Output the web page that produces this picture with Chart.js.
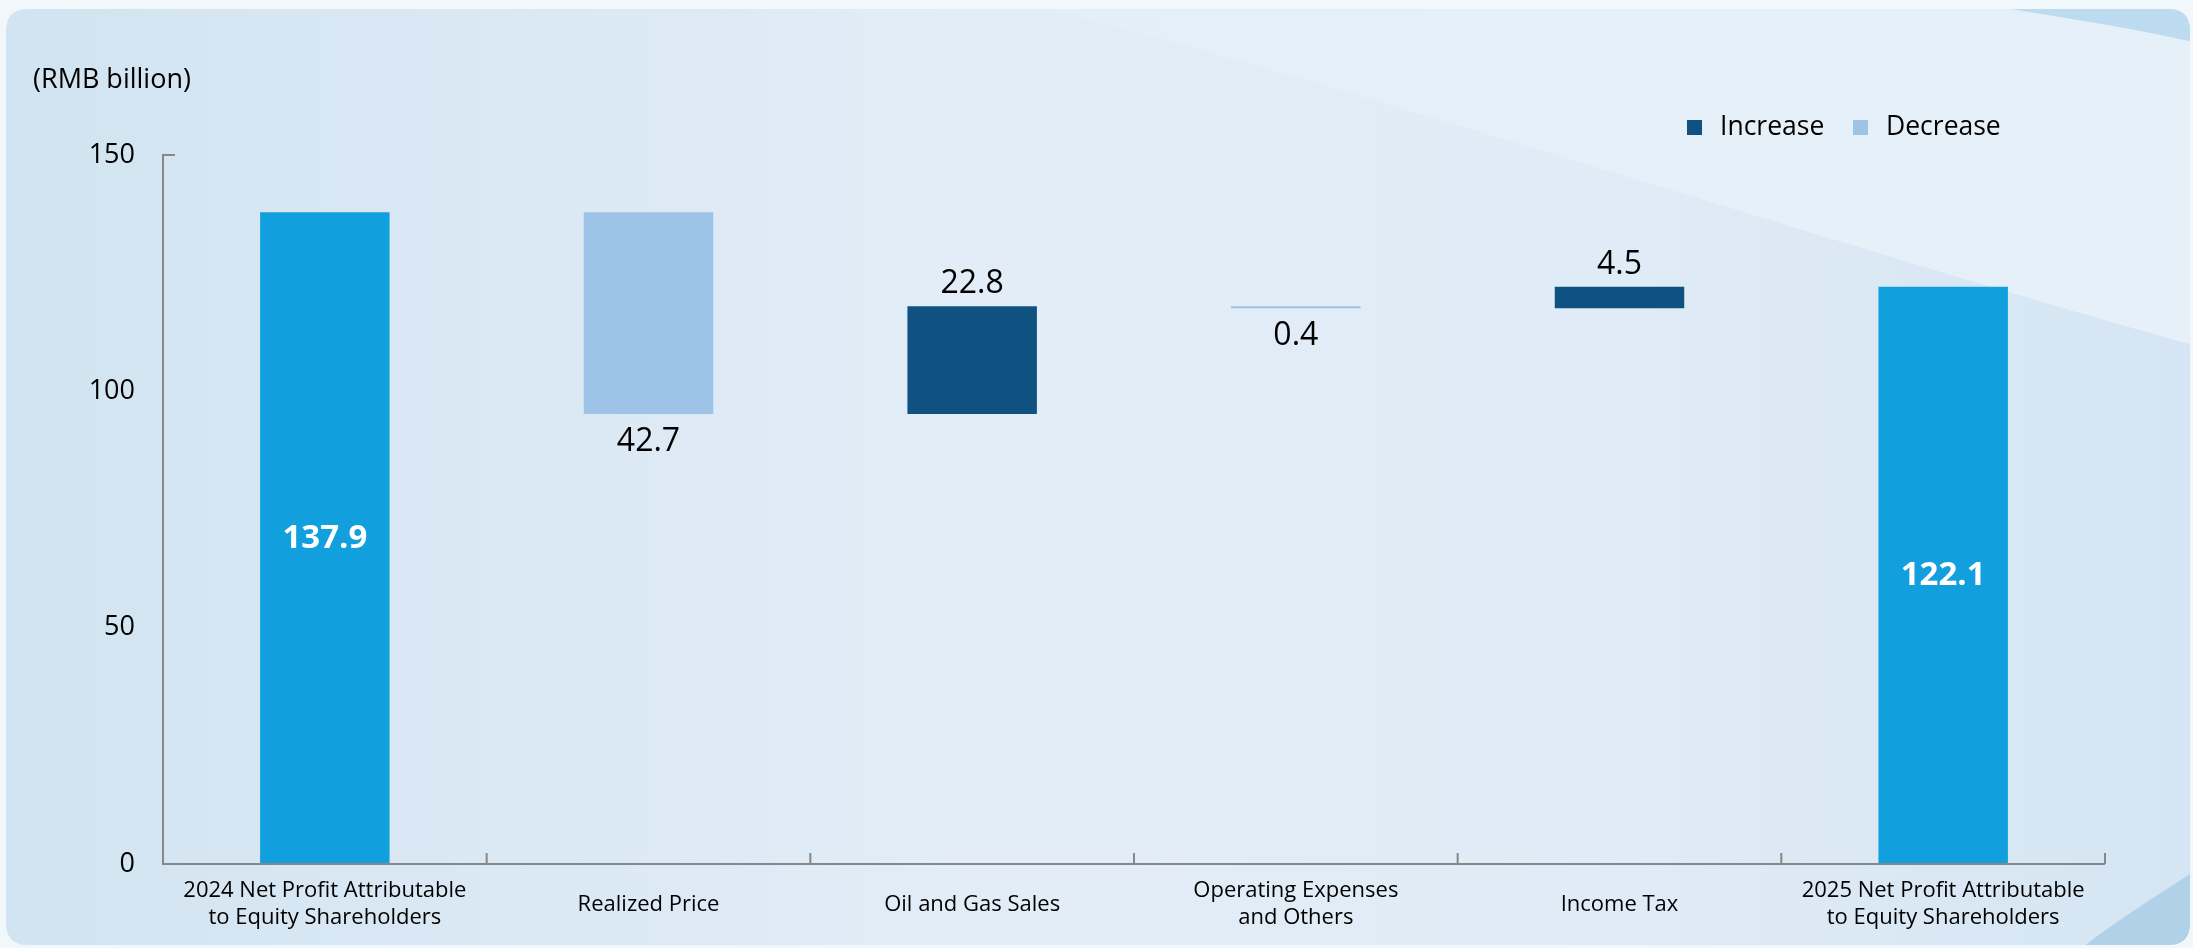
<!DOCTYPE html>
<html>
<head>
<meta charset="utf-8">
<script src="https://cdn.jsdelivr.net/npm/chart.js@4/dist/chart.umd.min.js"></script>
<style>
  html, body { margin: 0; padding: 0; background: #f1f7fb; }
  canvas { display: block; }
</style>
</head>
<body>
<canvas id="bridge" width="2193" height="948"></canvas>
<script>
// Net profit bridge, RMB billion
const categories = [
  ['2024 Net Profit Attributable', 'to Equity Shareholders'],
  'Realized Price',
  'Oil and Gas Sales',
  ['Operating Expenses', 'and Others'],
  'Income Tax',
  ['2025 Net Profit Attributable', 'to Equity Shareholders']
];
const openingProfit = 137.9;
const changes = [-42.7, 22.8, -0.4, 4.5];
const closingProfit = 122.1;
const yTickValues = [0, 50, 100, 150];
const unitLabel = '(RMB billion)';
const legendLabels = ['Increase', 'Decrease'];

const COLORS = { total: '#129fdd', increase: '#0f5282', decrease: '#9dc3e6' };
const FONT = "'Open Sans', 'Noto Sans', sans-serif";

// Floating [start, end] ranges for each step of the bridge
const ranges = [[0, openingProfit]];
const kinds = ['total'];
const valueLabels = [openingProfit.toFixed(1)];
let level = openingProfit;
changes.forEach(d => {
  const next = Math.round((level + d) * 10) / 10;
  ranges.push([level, next]);
  kinds.push(d >= 0 ? 'increase' : 'decrease');
  valueLabels.push(Math.abs(d).toFixed(1));
  level = next;
});
ranges.push([0, closingProfit]);
kinds.push('total');
valueLabels.push(closingProfit.toFixed(1));

// Panel background with soft light swooshes
const backdrop = {
  id: 'backdrop',
  beforeDraw(chart) {
    const { ctx, width, height } = chart;
    ctx.save();
    ctx.fillStyle = '#f1f7fb';
    ctx.fillRect(0, 0, width, height);

    const px = 6, py = 9, pw = width - px - 3, ph = height - py - 3, r = 22;
    ctx.beginPath();
    ctx.moveTo(px + r, py);
    ctx.lineTo(px + pw - r, py);
    ctx.quadraticCurveTo(px + pw, py, px + pw, py + r);
    ctx.lineTo(px + pw, py + ph - r);
    ctx.quadraticCurveTo(px + pw, py + ph, px + pw - r, py + ph);
    ctx.lineTo(px + r, py + ph);
    ctx.quadraticCurveTo(px, py + ph, px, py + ph - r);
    ctx.lineTo(px, py + r);
    ctx.quadraticCurveTo(px, py, px + r, py);
    ctx.closePath();
    const g = ctx.createLinearGradient(px, 0, px + pw, 0);
    g.addColorStop(0, '#d2e4f1');
    g.addColorStop(0.45, '#e2edf7');
    g.addColorStop(0.75, '#dfebf6');
    g.addColorStop(1, '#d5e5f3');
    ctx.fillStyle = g;
    ctx.fill();
    ctx.clip();

    // lighter sweep across the upper right
    ctx.beginPath();
    ctx.moveTo(1050, py);
    ctx.bezierCurveTo(1400, 100, 1850, 250, width, 345);
    ctx.lineTo(width, py);
    ctx.closePath();
    const g2 = ctx.createLinearGradient(1100, 0, width, 300);
    g2.addColorStop(0, 'rgba(232,241,249,0.5)');
    g2.addColorStop(1, 'rgba(236,244,251,0.75)');
    ctx.fillStyle = g2;
    ctx.fill();

    // darker blue band in the top-right corner
    ctx.beginPath();
    ctx.moveTo(2010, py);
    ctx.bezierCurveTo(2080, 20, 2140, 30, width, 42);
    ctx.lineTo(width, py);
    ctx.closePath();
    ctx.fillStyle = 'rgba(175,212,238,0.75)';
    ctx.fill();

    // blue wedge in the bottom-right corner
    ctx.beginPath();
    ctx.moveTo(width, 872);
    ctx.bezierCurveTo(2150, 900, 2110, 925, 2082, height);
    ctx.lineTo(width, height);
    ctx.closePath();
    ctx.fillStyle = 'rgba(172,206,230,0.9)';
    ctx.fill();
    ctx.restore();
  }
};

// Axis lines, inward category ticks and the top cap of the value axis
const axisLines = {
  id: 'axisLines',
  afterDatasetsDraw(chart) {
    const { ctx, chartArea } = chart;
    const xs = chart.scales.x, ys = chart.scales.y;
    const y0 = ys.getPixelForValue(0);
    const yTop = ys.getPixelForValue(yTickValues[yTickValues.length - 1]);
    const half = (xs.getPixelForValue(1) - xs.getPixelForValue(0)) / 2;
    ctx.save();
    ctx.strokeStyle = '#878787';
    ctx.lineWidth = 2;
    ctx.beginPath();
    ctx.moveTo(chartArea.left + 12, yTop);
    ctx.lineTo(chartArea.left, yTop);
    ctx.lineTo(chartArea.left, y0);
    ctx.lineTo(chartArea.right, y0);
    for (let i = 0; i < categories.length; i++) {
      const bx = xs.getPixelForValue(i) + half;
      ctx.moveTo(bx, y0);
      ctx.lineTo(bx, y0 - 11);
    }
    ctx.stroke();
    ctx.restore();
  }
};

// Value labels: totals inside the bar, changes beside their bar
const barLabels = {
  id: 'barLabels',
  afterDatasetsDraw(chart) {
    const { ctx } = chart;
    const meta = chart.getDatasetMeta(0);
    ctx.save();
    ctx.textAlign = 'center';
    ctx.textBaseline = 'middle';
    meta.data.forEach((bar, i) => {
      const top = Math.min(bar.y, bar.base);
      const bottom = Math.max(bar.y, bar.base);
      const kind = kinds[i];
      if (kind === 'total') {
        ctx.fillStyle = '#ffffff';
        ctx.font = `bold 33px ${FONT}`;
        ctx.fillText(valueLabels[i], bar.x, (top + bottom) / 2);
      } else if (kind === 'increase') {
        ctx.fillStyle = '#000000';
        ctx.font = `32px ${FONT}`;
        ctx.fillText(valueLabels[i], bar.x, top - 22);
      } else {
        ctx.fillStyle = '#000000';
        ctx.font = `32px ${FONT}`;
        ctx.fillText(valueLabels[i], bar.x, bottom + 28);
      }
    });
    ctx.restore();
  }
};

// Unit caption and legend
const captions = {
  id: 'captions',
  afterDraw(chart) {
    const { ctx } = chart;
    ctx.save();
    ctx.fillStyle = '#000000';
    ctx.textBaseline = 'middle';
    ctx.textAlign = 'left';
    ctx.font = `27px ${FONT}`;
    ctx.fillText(unitLabel, 33, 80);

    const legendColors = [COLORS.increase, COLORS.decrease];
    const boxX = [1687, 1853];
    ctx.font = `26.5px ${FONT}`;
    legendLabels.forEach((t, i) => {
      ctx.fillStyle = legendColors[i];
      ctx.fillRect(boxX[i], 120, 15, 15);
      ctx.fillStyle = '#000000';
      ctx.fillText(t, boxX[i] + 33, 127);
    });
    ctx.restore();
  }
};

new Chart(document.getElementById('bridge'), {
  type: 'bar',
  data: {
    labels: categories,
    datasets: [{
      data: ranges,
      backgroundColor: kinds.map(k => COLORS[k]),
      borderWidth: 0,
      borderSkipped: false,
      barPercentage: 0.4,
      categoryPercentage: 1
    }]
  },
  options: {
    responsive: false,
    animation: false,
    devicePixelRatio: 1,
    layout: { padding: { left: 0, top: 155, right: 88, bottom: 0 } },
    plugins: { legend: { display: false }, tooltip: { enabled: false } },
    scales: {
      x: {
        grid: { display: false, drawTicks: false },
        border: { display: false },
        ticks: {
          color: '#000000',
          font: { family: FONT, size: 22, lineHeight: 1.23 },
          padding: 27,
          crossAlign: 'center',
          maxRotation: 0,
          autoSkip: false
        },
        afterFit(scale) { scale.height = 84; }
      },
      y: {
        min: 0,
        max: 150,
        afterBuildTicks(scale) { scale.ticks = yTickValues.map(v => ({ value: v })); },
        grid: { display: false, drawTicks: false },
        border: { display: false },
        ticks: {
          color: '#000000',
          font: { family: FONT, size: 27 },
          padding: 28
        },
        afterFit(scale) { scale.width = 163; }
      }
    }
  },
  plugins: [backdrop, axisLines, barLabels, captions]
});
</script>
</body>
</html>
